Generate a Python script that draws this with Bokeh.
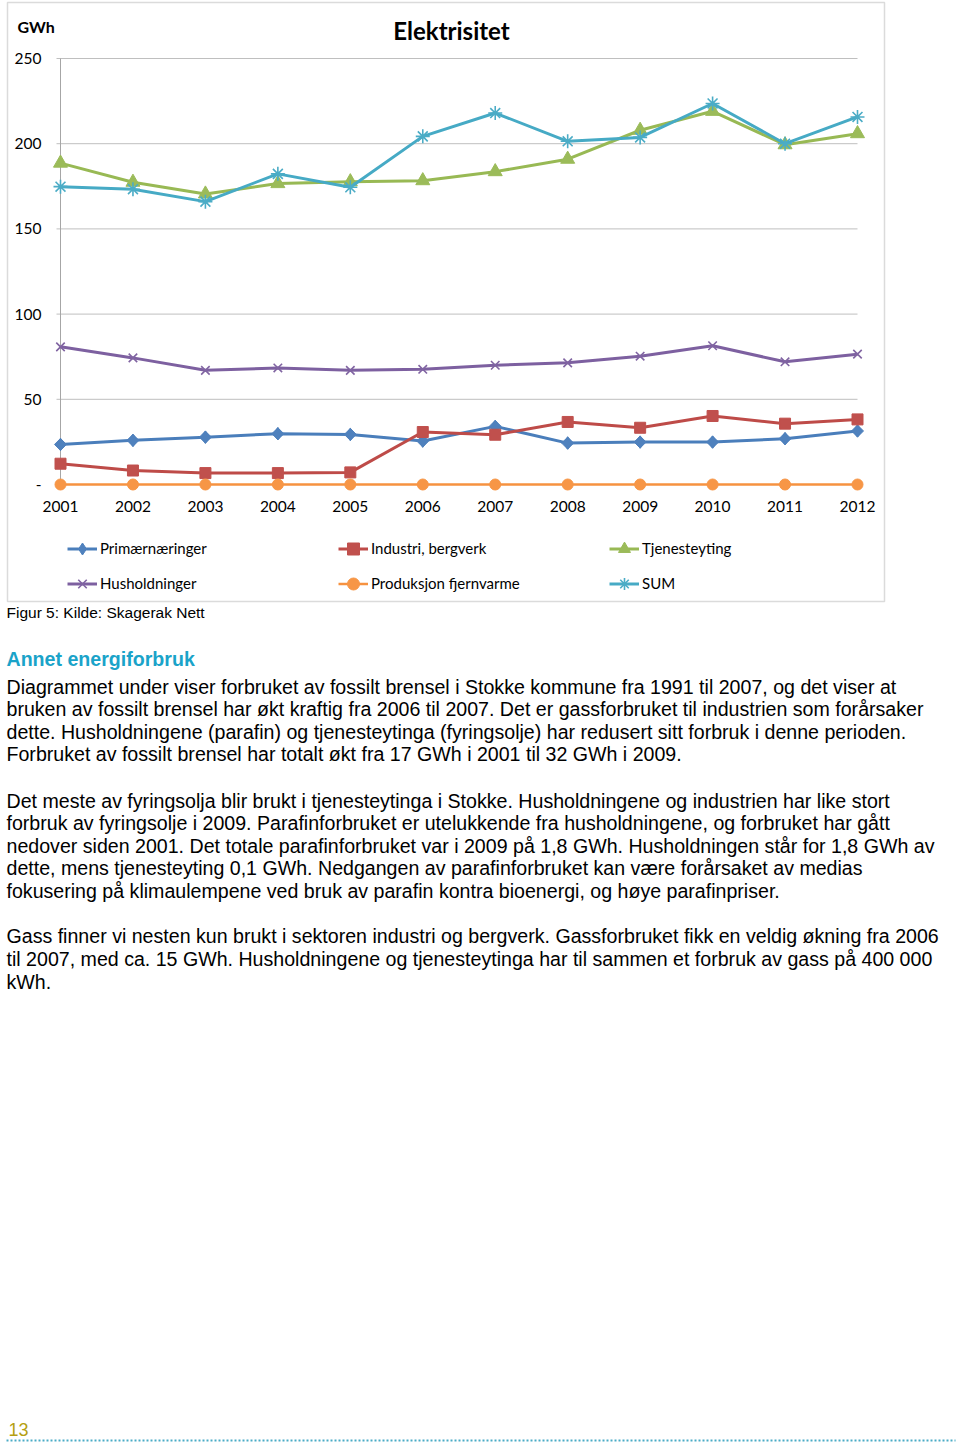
import math
from bokeh.plotting import figure
from bokeh.models import Range1d, Legend, LegendItem, Label, BoxAnnotation
from bokeh.core.properties import value
from bokeh.embed import file_html
from bokeh.resources import INLINE

# ---------------- data ----------------
years = [2001, 2002, 2003, 2004, 2005, 2006, 2007, 2008, 2009, 2010, 2011, 2012]
primaer = [23.5, 25.9, 27.8, 29.8, 29.4, 25.5, 34.1, 24.3, 24.9, 24.9, 26.9, 31.4]
industri = [12.2, 8.2, 6.7, 6.7, 7.1, 30.8, 29.2, 36.7, 33.3, 40.2, 35.7, 38.2]
tjeneste = [188.6, 177.4, 170.5, 176.6, 177.7, 178.3, 183.6, 190.9, 207.9, 219.0, 199.4, 205.9]
hushold = [80.8, 74.3, 67.0, 68.4, 67.0, 67.6, 70.0, 71.4, 75.3, 81.4, 72.0, 76.5]
fjernvarme = [0, 0, 0, 0, 0, 0, 0, 0, 0, 0, 0, 0]
total = [174.8, 173.3, 166.0, 182.3, 174.4, 204.3, 218.0, 201.4, 203.7, 223.6, 200.0, 215.7]

series_names = ["Primærnæringer", "Industri, bergverk", "Tjenesteyting",
                "Husholdninger", "Produksjon fjernvarme", "SUM"]
y_ticks = [0, 50, 100, 150, 200, 250]
y_tick_labels = ["-", "50", "100", "150", "200", "250"]
x_tick_labels = [str(y) for y in years]

chart_title = "Elektrisitet"
unit_label = "GWh"
caption = "Figur 5: Kilde: Skagerak Nett"
heading = "Annet energiforbruk"
para1 = [
    "Diagrammet under viser forbruket av fossilt brensel i Stokke kommune fra 1991 til 2007, og det viser at",
    "bruken av fossilt brensel har økt kraftig fra 2006 til 2007. Det er gassforbruket til industrien som forårsaker",
    "dette. Husholdningene (parafin) og tjenesteytinga (fyringsolje) har redusert sitt forbruk i denne perioden.",
    "Forbruket av fossilt brensel har totalt økt fra 17 GWh i 2001 til 32 GWh i 2009.",
]
para2 = [
    "Det meste av fyringsolja blir brukt i tjenesteytinga i Stokke. Husholdningene og industrien har like stort",
    "forbruk av fyringsolje i 2009. Parafinforbruket er utelukkende fra husholdningene, og forbruket har gått",
    "nedover siden 2001. Det totale parafinforbruket var i 2009 på 1,8 GWh. Husholdningen står for 1,8 GWh av",
    "dette, mens tjenesteyting 0,1 GWh. Nedgangen av parafinforbruket kan være forårsaket av medias",
    "fokusering på klimaulempene ved bruk av parafin kontra bioenergi, og høye parafinpriser.",
]
para3 = [
    "Gass finner vi nesten kun brukt i sektoren industri og bergverk. Gassforbruket fikk en veldig økning fra 2006",
    "til 2007, med ca. 15 GWh. Husholdningene og tjenesteytinga har til sammen et forbruk av gass på 400 000",
    "kWh.",
]
page_number = "13"

# ---------------- page geometry (pixels) ----------------
W, H = 958, 1445
x_first_px, x_last_px = 60, 857      # pixel x of first / last year
y_zero_px, y_top_px = 484, 58        # pixel y of 0 and 250

ppx = (x_last_px - x_first_px) / (years[-1] - years[0])
ppy = (y_zero_px - y_top_px) / (y_ticks[-1] - y_ticks[0])
x_start = years[0] - x_first_px / ppx
x_end = years[-1] + (W - x_last_px) / ppx
y_start = y_ticks[0] - (H - y_zero_px) / ppy
y_end = y_ticks[-1] + y_top_px / ppy


def px_to_x(xp):
    return x_start + xp / ppx


def px_to_y(yp):
    return y_end - yp / ppy


p = figure(width=W, height=H, output_backend="svg", toolbar_location=None,
           x_range=Range1d(x_start, x_end), y_range=Range1d(y_start, y_end),
           x_axis_location=None, y_axis_location=None,
           min_border=0, min_border_left=0, min_border_right=0,
           min_border_top=0, min_border_bottom=0)
p.outline_line_color = None
p.xgrid.visible = False
p.ygrid.visible = False
p.background_fill_color = "white"
p.border_fill_color = "white"

CHART_FONT = "Lato"
BODY_FONT = "Liberation Sans"

# gridlines (with outward tick stubs) and vertical axis line
tick_len = 4 / ppx
p.segment(x0=[years[0] - tick_len] * len(y_ticks), y0=y_ticks,
          x1=[years[-1]] * len(y_ticks), y1=y_ticks, line_color="#BFBFBF", line_width=1)
p.segment(x0=[years[0]], y0=[y_ticks[0]], x1=[years[0]], y1=[y_ticks[-1]],
          line_color="#A6A6A6", line_width=1)

# tick labels, placed through the data scales
p.text(x=[years[0] - 19 / ppx] * len(y_ticks), y=y_ticks, text=y_tick_labels,
       text_align="right", text_baseline="middle", text_font=value(CHART_FONT),
       text_font_size="15.5px", text_color="#000000")
p.text(x=years, y=[y_ticks[0] - 22 / ppy] * len(years), text=x_tick_labels,
       text_align="center", text_baseline="middle", text_font=value(CHART_FONT),
       text_font_size="15.5px", text_color="#000000")

styles = [
    (primaer, "#4A7EBB", "#4F81BD", "square", 8.5, math.pi / 4, 3),
    (industri, "#BE4B48", "#C0504D", "square", 11, 0, 3),
    (tjeneste, "#98B954", "#9BBB59", "triangle", 14, 0, 3),
    (hushold, "#7D60A0", "#8064A2", "x", 12, 0, 3),
    (fjernvarme, "#F69240", "#F79646", "circle", 11, 0, 2.5),
    (total, "#46AAC5", "#4BACC6", "asterisk", 14, 0, 3),
]
items = []
for name, (vals, lc, mc, marker, size, ang, lw) in zip(series_names, styles):
    r1 = p.line(years, vals, line_color=lc, line_width=lw)
    if marker in ("x", "asterisk"):
        r2 = p.scatter(years, vals, marker=marker, size=size, line_color=mc, line_width=1.6)
        legend_marker = r2
    elif ang:
        # diamond marker for the legend key, hidden underneath the rotated squares
        legend_marker = p.scatter(years, vals, marker="diamond", size=12.5,
                                  fill_color=mc, line_color=mc, line_width=1)
        r2 = p.scatter(years, vals, marker=marker, size=size, angle=ang,
                       fill_color=mc, line_color=mc, line_width=1)
    else:
        r2 = p.scatter(years, vals, marker=marker, size=size,
                       fill_color=mc, line_color=mc, line_width=1)
        legend_marker = r2
    items.append(LegendItem(label=name, renderers=[r1, legend_marker]))

legend = Legend(items=items, orientation="horizontal", ncols=3,
                location=(67, H - 600.5),
                glyph_width=30, glyph_height=35, label_standoff=3, label_width=238,
                label_height=20, spacing=0, padding=0, margin=0,
                background_fill_alpha=0, border_line_color=None,
                label_text_font=CHART_FONT, label_text_font_size="15px",
                label_text_color="#000000")
p.add_layout(legend)


def add_text(text, xp, yp, size, font=BODY_FONT, color="#000000", style="normal", align="left"):
    p.add_layout(Label(x=xp, y=yp, x_units="canvas", y_units="canvas",
                       text=text, text_font=font, text_font_size=size,
                       text_color=color, text_font_style=style,
                       text_align=align, text_baseline="middle"))


# chart border box
p.add_layout(BoxAnnotation(left=7, right=884, top=2, bottom=601,
                           left_units="canvas", right_units="canvas",
                           top_units="canvas", bottom_units="canvas",
                           fill_alpha=0, line_color="#878787", line_width=1.5))

add_text(chart_title, 451, 30, "24px", font=CHART_FONT, style="bold", align="center")
add_text(unit_label, 17, 26, "16px", font=CHART_FONT, style="bold")
add_text(caption, 6, 612, "15.5px")
add_text(heading, 6, 658, "19.6px", color="#1AA3C9", style="bold")
for i, line in enumerate(para1):
    add_text(line, 6, 686 + i * 22.6, "19.6px")
for i, line in enumerate(para2):
    add_text(line, 6, 800 + i * 22.6, "19.6px")
for i, line in enumerate(para3):
    add_text(line, 6, 935 + i * 23, "19.6px")
add_text(page_number, 8, 1429, "18px", color="#B59F12")

# dotted footer rule
p.segment(x0=[px_to_x(6)], y0=[px_to_y(1440)], x1=[px_to_x(955)], y1=[px_to_y(1440)],
          line_color="#4BACC6", line_width=2, line_dash="2 2")

open("out.html", "w").write(file_html(p, INLINE))
